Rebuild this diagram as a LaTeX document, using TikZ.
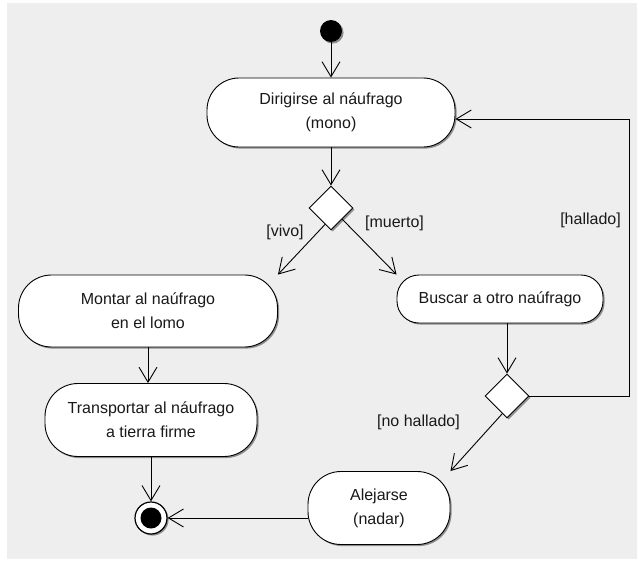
\documentclass[tikz,border=0pt]{standalone}
\usepackage{fontspec}
\setmainfont{Liberation Sans}
\usetikzlibrary{arrows.meta,shadows,shapes.geometric}
\definecolor{canvasgray}{HTML}{EEEEEE}
\begin{document}
\begin{tikzpicture}[x=1pt,y=-1pt,
  every node/.style={font=\fontsize{16}{24}\selectfont, text=black!90},
  soft shadow/.style={drop shadow={shadow xshift=1.6pt,shadow yshift=-1.6pt,fill=black,opacity=0.4}},
  act/.style={draw=black, line width=0.9pt, fill=white, align=center,
    inner sep=0pt, soft shadow},
  choice/.style={diamond, aspect=1, draw=black, line width=0.9pt, fill=white,
    inner sep=0pt, minimum width=44pt, minimum height=44pt, soft shadow},
  startdot/.style={circle, fill=black, inner sep=0pt, minimum size=22pt, soft shadow},
  enddot/.style={circle, draw=black, line width=1.2pt, fill=white, inner sep=0pt,
    minimum size=32pt, soft shadow},
  flow/.style={line width=0.9pt, -{Straight Barb[length=15pt,width=18pt]}},
  guard/.style={inner sep=0pt}
]
% canvas
\fill[white] (0,0) rectangle (639,562);
\fill[canvasgray] (7,3) rectangle (637,559);
\useasboundingbox (0,0) rectangle (639,562);

% activities and control nodes
\node[startdot] (ini) at (331,31) {};
\node[act, minimum width=248pt, minimum height=69pt, rounded corners=32pt]
  (dir) at (331,112.5) {Dirigirse al náufrago\\(mono)};
\node[choice] (d1) at (331,208) {};
\node[act, minimum width=259pt, minimum height=72pt, rounded corners=33pt]
  (mon) at (148,311) {Montar al naúfrago\\en el lomo};
\node[act, minimum width=212pt, minimum height=73pt, rounded corners=33pt]
  (tra) at (151,420) {Transportar al náufrago\\a tierra firme};
\node[act, minimum width=206pt, minimum height=48pt, rounded corners=22pt]
  (bus) at (500,299) {Buscar a otro naúfrago};
\node[choice] (d2) at (507,396) {};
\node[act, minimum width=142pt, minimum height=73pt, rounded corners=33pt]
  (ale) at (379,508) {Alejarse\\(nadar)};
\node[enddot] (fin) at (151,518) {};
\fill[black] (fin.center) circle[radius=10.5];

% guards
\node[guard] (gvivo) at (285,232) {[vivo]};
\node[guard] (gmuerto) at (394.5,223) {[muerto]};
\node[guard] (ghallado) at (590.5,220) {[hallado]};
\node[guard] (gno) at (418.5,422) {[no hallado]};

% transitions
\coordinate (back) at (629,119);
\draw[flow] (ini) -- (dir);
\draw[flow] (dir) -- (d1);
\draw[flow] (d1.250) -- (mon.north east);
\draw[flow] (d1.south east) -- (bus.north west);
\draw[flow] (mon.south) -- (mon.south |- tra.north);
\draw[flow] (tra) -- (fin);
\draw[flow] (bus.south -| d2.north) -- (d2.north);
\draw[flow] (d2.east) -| (back) -- (dir.east |- back);
\draw[flow] (d2.255) -- (ale.north east);
\draw[flow] (ale.west |- fin) -- (fin.east);
\end{tikzpicture}
\end{document}
